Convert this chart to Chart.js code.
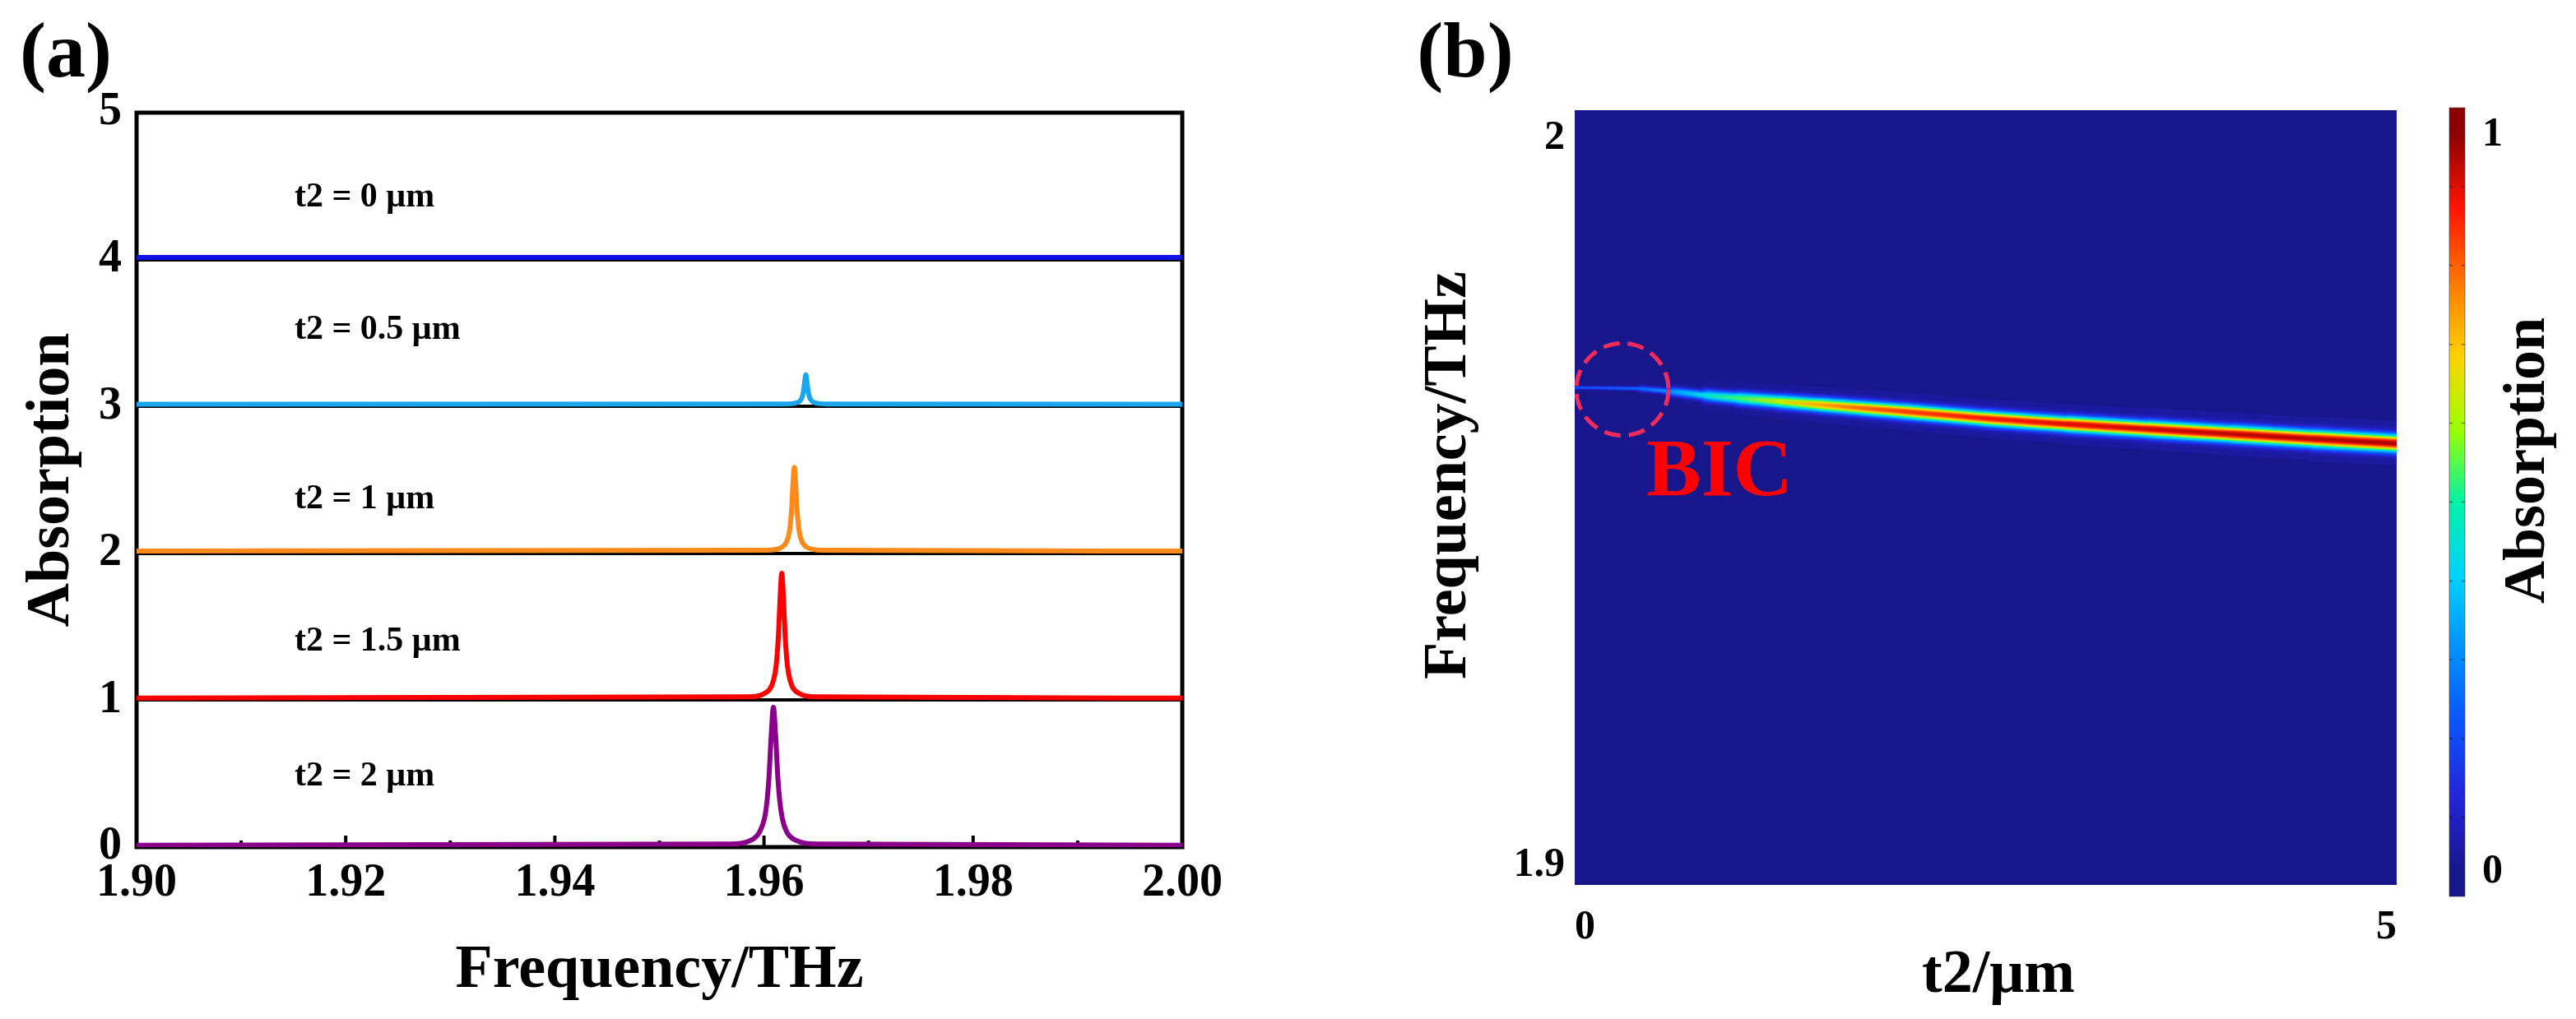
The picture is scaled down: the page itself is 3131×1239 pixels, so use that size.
<!DOCTYPE html>
<html>
<head>
<meta charset="utf-8">
<script src="https://cdn.jsdelivr.net/npm/chart.js@4.4.1/dist/chart.umd.min.js"></script>
<style>
  body { margin: 0; background: #fff; width: 3131px; height: 1239px; position: relative; overflow: hidden; }
  canvas { position: absolute; top: 0; }
  #a { left: 0; }
  #b { left: 1600px; }
</style>
</head>
<body>
<canvas id="a" width="1560" height="1239"></canvas>
<canvas id="b" width="1531" height="1239"></canvas>
<script>
// ---- (a) absorption spectra, one per t2, each stacked on its own baseline ----
const seriesLabels = ['t2 = 0 μm', 't2 = 0.5 μm', 't2 = 1 μm', 't2 = 1.5 μm', 't2 = 2 μm'];
const seriesOffset = [4, 3, 2, 1, 0];

const freqT0 = [1.90, 2.00];
const absT0 = [0.015, 0.015];

const freqT05 = [1.90, 1.9620, 1.9630, 1.9634, 1.9636, 1.9637, 1.9638, 1.9639, 1.9640, 1.9641, 1.9642, 1.9643, 1.9644, 1.9646, 1.9650, 1.9660, 2.00];
const absT05 = [0.015, 0.017, 0.023, 0.035, 0.055, 0.077, 0.115, 0.175, 0.215, 0.175, 0.115, 0.077, 0.055, 0.035, 0.023, 0.017, 0.015];

const freqT1 = [1.90, 1.9603, 1.9616, 1.96212, 1.96238, 1.96251, 1.96264, 1.96277, 1.9629, 1.96303, 1.96316, 1.96329, 1.96342, 1.96368, 1.9642, 1.9655, 2.00];
const absT1 = [0.015, 0.021, 0.037, 0.072, 0.129, 0.19, 0.30, 0.471, 0.585, 0.471, 0.30, 0.19, 0.129, 0.072, 0.037, 0.021, 0.015];

const freqT15 = [1.90, 1.9585, 1.9601, 1.96074, 1.96106, 1.96122, 1.96138, 1.96154, 1.9617, 1.96186, 1.96202, 1.96218, 1.96234, 1.96266, 1.9633, 1.9649, 2.00];
const absT15 = [0.015, 0.023, 0.048, 0.10, 0.185, 0.277, 0.44, 0.695, 0.865, 0.695, 0.44, 0.277, 0.185, 0.10, 0.048, 0.023, 0.015];

const freqT2 = [1.90, 1.9567, 1.9588, 1.9596, 1.96006, 1.96027, 1.96048, 1.96069, 1.9609, 1.96111, 1.96132, 1.96153, 1.96174, 1.96216, 1.963, 1.9651, 2.00];
const absT2 = [0.013, 0.021, 0.048, 0.106, 0.20, 0.30, 0.48, 0.76, 0.952, 0.76, 0.48, 0.30, 0.20, 0.106, 0.048, 0.021, 0.013];

// ---- (b) resonance ridge of the absorption map vs t2 ----
const ridgeT2 = [0, 0.2, 0.4, 0.6, 0.8, 1.0, 1.25, 1.5, 1.75, 2.0, 2.5, 3.0, 3.5, 4.0, 4.5, 5.0];
const ridgeFreq = [1.96566, 1.96561, 1.9655, 1.9651, 1.96459, 1.9642, 1.96375, 1.96329, 1.96284, 1.96239, 1.96143, 1.96064, 1.95996, 1.95928, 1.95861, 1.95799];
const ridgePeak = [0.2, 0.21, 0.24, 0.32, 0.45, 0.55, 0.66, 0.76, 0.83, 0.87, 0.91, 0.94, 0.96, 0.97, 0.98, 0.99];
const ridgeFwhm = [0.00034, 0.00036, 0.00045, 0.00079, 0.00124, 0.00141, 0.00152, 0.00158, 0.0016, 0.00163, 0.00167, 0.00173, 0.00181, 0.00186, 0.00192, 0.00198];

// tick labels of panel (b)
const bT2Ticks = [0, 5];
const bFreqTicks = [1.9, 2];
const cbarTicks = [0, 1];

// ---- styling ----
const seriesColors = ['#1212e6', '#1aa6ec', '#ff8a1c', '#ff0000', '#8b008b'];
const captionPos = [[1.9151, 4.42], [1.9151, 3.52], [1.9151, 2.37], [1.9151, 1.40], [1.9151, 0.48]];
const bicMark = [0.29, 1.96542];
const bicText = [0.88, 1.9538];
const cmapStops = [[0, '#17168a'], [0.1, '#2323d8'], [0.2, '#0c52ff'], [0.3, '#0090ff'], [0.4, '#00d2ff'],
  [0.5, '#00f2a8'], [0.6, '#9cff00'], [0.7, '#ffd200'], [0.8, '#ff7800'], [0.9, '#ff1400'], [1, '#8e0000']];
const bandLevels = [0.02, 0.035, 0.05, 0.07, 0.1, 0.14, 0.19, 0.25, 0.32, 0.4, 0.48, 0.56, 0.64, 0.72, 0.8, 0.87, 0.93, 0.97];

Chart.defaults.font.family = "'Liberation Serif', 'Times New Roman', serif";
Chart.defaults.font.weight = 'bold';
Chart.defaults.color = '#000';

const serif = size => `bold ${size}px 'Liberation Serif', 'Times New Roman', serif`;

function hexRgb(h) {
  return [1, 3, 5].map(i => parseInt(h.slice(i, i + 2), 16));
}

function cmap(v) {
  v = Math.max(0, Math.min(1, v));
  for (let i = 1; i < cmapStops.length; i++) {
    if (v <= cmapStops[i][0]) {
      const [a, ca] = cmapStops[i - 1];
      const [b, cb] = cmapStops[i];
      const t = (v - a) / (b - a);
      const A = hexRgb(ca), B = hexRgb(cb);
      const c = A.map((q, k) => Math.round(q + (B[k] - q) * t));
      return `rgb(${c[0]},${c[1]},${c[2]})`;
    }
  }
  return cmapStops[cmapStops.length - 1][1];
}

// ================= panel (a) =================
const specFreq = [freqT0, freqT05, freqT1, freqT15, freqT2];
const specAbs = [absT0, absT05, absT1, absT15, absT2];

const specDatasets = specFreq.map((fr, k) => ({
  label: seriesLabels[k],
  data: fr.map((f, i) => ({x: f, y: specAbs[k][i] + seriesOffset[k]})),
  borderColor: seriesColors[k],
  borderWidth: 6,
  pointRadius: 0,
  cubicInterpolationMode: 'monotone',
  fill: false
}));

const panelA = {
  id: 'panelA',
  beforeDatasetsDraw(chart) {
    const {ctx, chartArea: a, scales: {x}} = chart;
    ctx.save();
    ctx.strokeStyle = '#000';
    ctx.lineWidth = 4;
    x.ticks.forEach(t => {
      const px = x.getPixelForValue(t.value);
      const major = Math.round(t.value * 100) % 2 === 0;
      ctx.beginPath();
      ctx.moveTo(px, a.bottom);
      ctx.lineTo(px, a.bottom - (major ? 14 : 8));
      ctx.stroke();
    });
    ctx.lineWidth = 5;
    ctx.strokeRect(a.left, a.top, a.right - a.left, a.bottom - a.top);
    ctx.restore();
  },
  afterDraw(chart) {
    const {ctx, scales: {x, y}} = chart;
    ctx.save();
    ctx.fillStyle = '#000';
    ctx.textBaseline = 'middle';
    ctx.font = serif(42);
    seriesLabels.forEach((s, k) => {
      ctx.fillText(s, x.getPixelForValue(captionPos[k][0]), y.getPixelForValue(captionPos[k][1]));
    });
    ctx.font = serif(96);
    ctx.textAlign = 'center';
    ctx.textBaseline = 'alphabetic';
    ctx.fillText('(a)', 80, 93);
    ctx.restore();
  }
};

new Chart(document.getElementById('a'), {
  type: 'line',
  data: {datasets: specDatasets},
  options: {
    responsive: false,
    animation: false,
    devicePixelRatio: 1,
    layout: {padding: {top: 137, right: 123, left: 0, bottom: 0}},
    plugins: {legend: {display: false}, tooltip: {enabled: false}},
    scales: {
      x: {
        type: 'linear', min: 1.9, max: 2.0,
        afterFit: s => { s.height = 209; },
        grid: {display: false, drawTicks: false},
        border: {display: false},
        ticks: {
          stepSize: 0.01, autoSkip: false, maxRotation: 0, padding: 11,
          font: {size: 56},
          callback: v => {
            const k = Math.round(v * 100);
            return k % 2 === 0 ? (k / 100).toFixed(2) : '';
          }
        },
        title: {display: true, text: 'Frequency/THz', font: {size: 74}, padding: {top: 0, bottom: 14}}
      },
      y: {
        min: 0, max: 5,
        afterFit: s => { s.width = 166; },
        grid: {color: '#000', lineWidth: 4, drawTicks: false},
        border: {display: false},
        ticks: {stepSize: 1, padding: 18, font: {size: 56}},
        title: {display: true, text: 'Absorption', font: {size: 74}, padding: {top: 19, bottom: 0}}
      }
    }
  },
  plugins: [panelA]
});

// ================= panel (b) =================
function ridgeGradient(chart, shade) {
  const a = chart.chartArea;
  if (!a) return cmap(0);
  const x = chart.scales.x;
  const g = chart.ctx.createLinearGradient(a.left, 0, a.right, 0);
  ridgeT2.forEach((t, i) => {
    const f = (x.getPixelForValue(t) - a.left) / (a.right - a.left);
    g.addColorStop(Math.min(1, Math.max(0, f)), cmap(ridgePeak[i] * shade));
  });
  return g;
}

// the bright band is painted as nested strokes, each one an iso-level of the resonance;
// the wider (weaker) levels get a higher order so they are drawn underneath
const bandDatasets = bandLevels.map((lv, j) => {
  const next = j + 1 < bandLevels.length ? bandLevels[j + 1] : 1;
  const shade = (lv + next) / 2;
  const spread = Math.max(Math.sqrt(Math.log(1 / lv) / Math.LN2), 0.45 * Math.sqrt(1 / lv - 1));
  return {
    data: ridgeT2.map((t, i) => ({x: t, y: ridgeFreq[i]})),
    order: bandLevels.length - j,
    borderColor: ctx => ridgeGradient(ctx.chart, shade),
    borderWidth: 2,
    segment: {
      borderWidth: ctx => {
        const y = ctx.chart.scales.y;
        const pxPerTHz = Math.abs(y.getPixelForValue(1.9) - y.getPixelForValue(2.0)) / 0.1;
        const w = (ridgeFwhm[ctx.p0DataIndex] + ridgeFwhm[ctx.p1DataIndex]) / 2;
        return Math.max(1, w * pxPerTHz * spread);
      }
    },
    borderCapStyle: 'round',
    borderJoinStyle: 'round',
    pointRadius: 0,
    tension: 0.3,
    clip: 0
  };
});

const panelB = {
  id: 'panelB',
  beforeDatasetsDraw(chart) {
    const {ctx, chartArea: a} = chart;
    ctx.save();
    ctx.fillStyle = cmap(0);
    ctx.fillRect(a.left, a.top, a.right - a.left, a.bottom - a.top);
    ctx.restore();
  },
  afterDraw(chart) {
    const {ctx, chartArea: a, scales: {x, y, cb}} = chart;
    ctx.save();

    // BIC marker
    ctx.strokeStyle = '#ef2a5d';
    ctx.lineWidth = 5;
    ctx.setLineDash([20, 10]);
    ctx.beginPath();
    ctx.arc(x.getPixelForValue(bicMark[0]), y.getPixelForValue(bicMark[1]), 56, 0, Math.PI * 2);
    ctx.stroke();
    ctx.setLineDash([]);
    ctx.fillStyle = '#ff0000';
    ctx.font = serif(100);
    ctx.textAlign = 'center';
    ctx.textBaseline = 'middle';
    ctx.fillText('BIC', x.getPixelForValue(bicText[0]), y.getPixelForValue(bicText[1]));

    // colour bar
    const bx = a.right + 64, bw = 19, top = a.top - 3, bottom = a.bottom + 14;
    const g = ctx.createLinearGradient(0, bottom, 0, top);
    cmapStops.forEach(([v, c]) => {
      const f = (bottom - cb.getPixelForValue(v)) / (bottom - top);
      if (f >= 0 && f <= 1) g.addColorStop(f, c);
    });
    ctx.fillStyle = g;
    ctx.fillRect(bx, top, bw, bottom - top);
    ctx.strokeStyle = 'rgba(0,0,0,0.45)';
    ctx.lineWidth = 1.5;
    for (let i = 1; i < 10; i++) {
      const py = bottom - (bottom - top) * i / 10;
      ctx.beginPath();
      ctx.moveTo(bx, py); ctx.lineTo(bx + 4, py);
      ctx.moveTo(bx + bw - 4, py); ctx.lineTo(bx + bw, py);
      ctx.stroke();
    }
    ctx.strokeStyle = 'rgba(60,60,60,0.6)';
    ctx.lineWidth = 1;
    ctx.strokeRect(bx, top, bw, bottom - top);

    // titles
    ctx.fillStyle = '#000';
    ctx.font = serif(74);
    ctx.fillText('t2/μm', 829, 1187);
    ctx.save();
    ctx.translate(162, 578);
    ctx.rotate(-Math.PI / 2);
    ctx.fillText('Frequency/THz', 0, 0);
    ctx.restore();
    ctx.save();
    ctx.font = serif(72);
    ctx.translate(a.right + 160, 560);
    ctx.rotate(-Math.PI / 2);
    ctx.fillText('Absorption', 0, 0);
    ctx.restore();

    ctx.font = serif(96);
    ctx.textBaseline = 'alphabetic';
    ctx.fillText('(b)', 181, 93);
    ctx.restore();
  }
};

new Chart(document.getElementById('b'), {
  type: 'line',
  data: {datasets: bandDatasets},
  options: {
    responsive: false,
    animation: false,
    devicePixelRatio: 1,
    layout: {padding: {top: 133, left: 0, right: 0, bottom: 0}},
    plugins: {legend: {display: false}, tooltip: {enabled: false}},
    scales: {
      x: {
        type: 'linear', min: 0, max: 5,
        afterFit: s => { s.height = 163; },
        afterBuildTicks: s => { s.ticks = bT2Ticks.map(v => ({value: v})); },
        grid: {display: false, drawTicks: false},
        border: {display: false},
        ticks: {align: 'inner', padding: 22, maxRotation: 0, font: {size: 50}, callback: v => String(v)}
      },
      y: {
        type: 'linear', min: 1.8973, max: 2.0038,
        afterFit: s => { s.width = 314; },
        afterBuildTicks: s => { s.ticks = bFreqTicks.map(v => ({value: v})); },
        grid: {display: false, drawTicks: false},
        border: {display: false},
        ticks: {padding: 12, font: {size: 50}, callback: v => String(v)}
      },
      cb: {
        type: 'linear', position: 'right', min: -0.0178, max: 1.0334,
        afterFit: s => { s.width = 218; },
        afterBuildTicks: s => { s.ticks = cbarTicks.map(v => ({value: v})); },
        grid: {display: false, drawTicks: false},
        border: {display: false},
        ticks: {padding: 104, font: {size: 50}, callback: v => String(v)}
      }
    }
  },
  plugins: [panelB]
});
</script>
</body>
</html>
